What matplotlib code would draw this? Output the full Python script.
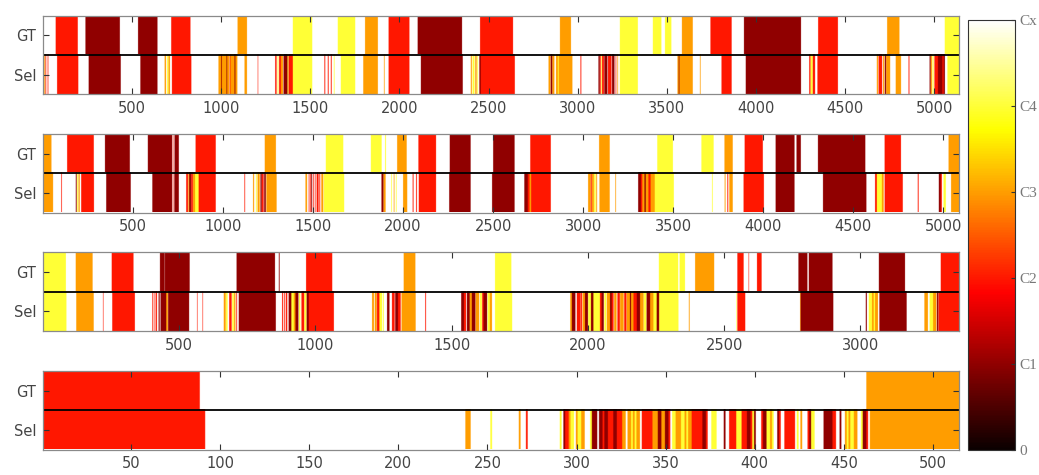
import numpy as np
import matplotlib
matplotlib.use('Agg')
from matplotlib import pyplot as plt
from matplotlib.cm import ScalarMappable
from matplotlib.colors import Normalize

# colour-scale value of each class, index 0 = Cx (nothing / white)
class_values = [1.0, 0.2, 0.4, 0.6, 0.8]
code_chars = '.droy'          # same order, used for the dense runs below
cbar_ticks = [0, 0.2, 0.4, 0.6, 0.8, 1.0]
cbar_labels = ['0', 'C1', 'C2', 'C3', 'C4', 'Cx']
row_labels = ['GT', 'Sel']

n_frames = [5137, 5085, 3360, 514]
tick_steps = [500, 500, 500, 50]

# segments: (first frame, last frame, class 1..4)
gt_1 = [(72, 195, 2), (239, 431, 1), (534, 642, 1), (720, 827, 2), (1092, 1144, 3),
        (1402, 1510, 4), (1654, 1751, 4), (1807, 1878, 3), (1939, 2055, 2), (2102, 2350, 1),
        (2452, 2636, 2), (2900, 2961, 3), (3236, 3336, 4), (3421, 3468, 4), (3489, 3524, 4),
        (3584, 3644, 3), (3744, 3862, 2), (3932, 4251, 1), (4348, 4458, 2), (4735, 4803, 3),
        (5058, 5137, 4)]
sel_1 = [(8, 12, 3), (15, 18, 2), (27, 30, 2), (80, 198, 2), (257, 436, 1), (547, 642, 1),
         (683, 690, 3), (697, 703, 4), (705, 712, 3), (724, 832, 2),
         (985, 1000, 3), (1000, 1004, 1), (1004, 1030, 3), (1030, 1034, 1), (1034, 1045, 3),
         (1048, 1052, 2), (1052, 1075, 3), (1075, 1080, 1), (1080, 1090, 3),
         (1131, 1144, 3), (1205, 1207, 2),
         (1303, 1310, 2), (1316, 1320, 4), (1325, 1335, 2), (1335, 1346, 3), (1350, 1372, 1),
         (1372, 1376, 4), (1378, 1401, 2), (1402, 1510, 4),
         (1579, 1583, 2), (1598, 1602, 2), (1615, 1619, 2), (1632, 1635, 4),
         (1671, 1751, 4), (1797, 1878, 3), (1913, 1916, 3), (1939, 2055, 2), (2120, 2354, 1),
         (2400, 2405, 3), (2410, 2420, 4), (2425, 2432, 3), (2436, 2440, 4), (2448, 2456, 1),
         (2456, 2646, 2),
         (2836, 2845, 3), (2848, 2856, 1), (2858, 2868, 3), (2878, 2969, 3), (2888, 2892, 4),
         (3015, 3019, 2),
         (3116, 3122, 1), (3124, 3128, 2), (3131, 3134, 4), (3136, 3146, 2), (3149, 3165, 1),
         (3169, 3188, 2), (3192, 3205, 1), (3212, 3215, 2), (3222, 3225, 3), (3236, 3336, 4),
         (3559, 3566, 3), (3566, 3570, 1), (3570, 3584, 3), (3584, 3644, 3), (3685, 3688, 3),
         (3806, 3862, 2), (3942, 4251, 1),
         (4298, 4304, 2), (4306, 4316, 4), (4318, 4330, 2), (4344, 4458, 2),
         (4677, 4683, 3), (4687, 4706, 2), (4712, 4718, 3), (4722, 4728, 1), (4730, 4751, 3),
         (4783, 4812, 3), (4855, 4859, 2),
         (4973, 4978, 1), (4980, 4986, 3), (4990, 4995, 4), (5000, 5020, 2), (5020, 5045, 1),
         (5045, 5052, 2), (5052, 5058, 1), (5073, 5137, 4)]

gt_2 = [(1, 47, 3), (135, 282, 2), (345, 482, 1), (583, 717, 1), (722, 724, 2), (731, 754, 1),
        (848, 959, 2), (1232, 1293, 3), (1571, 1667, 4), (1821, 1880, 4), (1900, 1904, 4),
        (1967, 2019, 3), (2085, 2182, 2), (2259, 2374, 1), (2500, 2618, 1), (2706, 2819, 2),
        (3088, 3146, 3), (3411, 3497, 4), (3656, 3723, 4), (3784, 3829, 3), (3896, 3996, 2),
        (4068, 4172, 1), (4184, 4207, 1), (4303, 4565, 1), (4673, 4763, 2), (5028, 5085, 3)]
sel_2 = [(1, 56, 3), (102, 105, 2), (183, 187, 1), (190, 194, 4), (198, 204, 3), (213, 283, 2),
         (352, 487, 1), (608, 717, 1), (722, 724, 2), (730, 754, 1),
         (796, 805, 2), (808, 812, 3), (813, 822, 1), (824, 832, 2), (834, 845, 3), (845, 865, 4),
         (865, 959, 2), (1119, 1122, 2),
         (1167, 1172, 3), (1183, 1187, 4), (1192, 1203, 3), (1208, 1214, 1), (1216, 1225, 2),
         (1229, 1237, 1), (1241, 1297, 3),
         (1458, 1466, 3), (1476, 1479, 2), (1484, 1487, 2), (1490, 1494, 1), (1500, 1503, 2),
         (1510, 1513, 2), (1520, 1530, 2), (1535, 1539, 2), (1546, 1556, 3), (1560, 1571, 4),
         (1571, 1672, 4), (1880, 1890, 1), (1892, 1902, 3), (1934, 1937, 4), (1948, 1951, 3),
         (1960, 1963, 4), (2000, 2022, 3), (2053, 2057, 2), (2072, 2076, 2),
         (2087, 2182, 2), (2256, 2374, 1), (2494, 2618, 1),
         (2673, 2692, 1), (2692, 2702, 2), (2702, 2711, 3), (2711, 2819, 2),
         (3027, 3040, 3), (3042, 3046, 2), (3048, 3058, 3), (3060, 3068, 4), (3072, 3076, 3),
         (3090, 3146, 3), (3178, 3181, 3),
         (3305, 3320, 1), (3320, 3328, 2), (3328, 3340, 3), (3340, 3347, 1), (3347, 3362, 3),
         (3362, 3374, 2), (3374, 3397, 3), (3397, 3502, 4), (3715, 3718, 4), (3785, 3789, 3),
         (3800, 3804, 2), (3811, 3829, 3), (3890, 4002, 2), (4068, 4172, 1), (4331, 4571, 1),
         (4620, 4630, 2), (4630, 4658, 4), (4658, 4667, 3), (4673, 4773, 2), (4857, 4861, 2),
         (4974, 4984, 1), (4984, 4990, 2), (5000, 5012, 4), (5042, 5085, 3)]

gt_3 = [(1, 84, 4), (121, 182, 3), (253, 332, 2), (430, 446, 1), (448, 538, 1), (711, 851, 1),
        (866, 868, 1), (966, 1061, 2), (1324, 1366, 3), (1659, 1718, 4), (2260, 2330, 4),
        (2336, 2355, 4), (2393, 2462, 3), (2548, 2570, 2), (2589, 2590, 2), (2620, 2636, 2),
        (2772, 2804, 1), (2810, 2896, 1), (3067, 3162, 1), (3294, 3360, 2)]
sel_3 = [(1, 86, 4), (123, 186, 3), (221, 222, 2), (255, 337, 2),
         (402, 404, 2), (408, 409, 2), (414, 418, 2), (425, 428, 1), (432, 452, 1), (453, 458, 3),
         (460, 536, 1), (566, 567, 2), (586, 587, 2),
         (664, 670, 3), (672, 677, 4), (684, 692, 2), (695, 700, 4), (702, 706, 3), (710, 712, 2),
         (719, 854, 1),
         (878, 881, 2), (886, 888, 2), (892, 896, 2), (902, 912, 1), (912, 921, 4), (921, 927, 3),
         (927, 937, 1), (940, 944, 4), (949, 958, 2), (960, 966, 4), (968, 975, 1),
         (976, 1067, 2),
         (1208, 1214, 3), (1218, 1224, 3), (1226, 1235, 2), (1235, 1244, 4), (1248, 1250, 4),
         (1263, 1271, 1), (1281, 1287, 2), (1288, 1290, 2), (1293, 1303, 1), (1303, 1312, 2),
         (1316, 1367, 3), (1403, 1405, 2),
         (1535, 1545, 1), (1545, 1552, 2), (1556, 1566, 1), (1566, 1574, 3), (1574, 1586, 1),
         (1588, 1600, 3), (1604, 1610, 4), (1612, 1617, 2), (1617, 1629, 1), (1632, 1640, 4),
         (1640, 1647, 3), (1659, 1721, 4),
         (1935, 1941, 3), (1941, 1953, 1), (1959, 1971, 2), (1973, 1977, 2), (1980, 1989, 3),
         (1989, 1999, 1), (2001, 2011, 4), (2011, 2020, 1), (2020, 2044, 4), (2044, 2050, 2),
         (2050, 2057, 1), (2060, 2066, 4), (2069, 2081, 3), (2081, 2087, 1), (2087, 2093, 2),
         (2096, 2104, 3), (2108, 2116, 2), (2118, 2130, 3), (2133, 2140, 2), (2142, 2154, 3),
         (2154, 2158, 1), (2158, 2167, 3), (2167, 2179, 2), (2179, 2191, 1), (2191, 2203, 3),
         (2205, 2213, 4), (2215, 2228, 1), (2228, 2240, 3), (2240, 2252, 4), (2252, 2261, 1),
         (2261, 2331, 4), (2370, 2372, 3), (2544, 2545, 4), (2548, 2576, 2),
         (2778, 2779, 3), (2780, 2899, 1),
         (3019, 3022, 1), (3030, 3042, 4), (3042, 3048, 3), (3048, 3053, 4), (3053, 3063, 3),
         (3069, 3168, 1),
         (3234, 3246, 3), (3253, 3265, 4), (3266, 3277, 3), (3280, 3284, 1), (3286, 3298, 2),
         (3298, 3360, 2)]

gt_4 = [(1, 88, 2), (463, 514, 3)]
sel_4 = [(1, 91, 2), (238, 240, 3), (252, 252, 4), (268, 268, 3), (272, 272, 2), (465, 514, 3)]
# frame-by-frame classes of the busy stretch in the last Sel row, from frame 291
sel_4_dense = (291, "y.drroyy.o" "yyoo...ydd" "d.ddrddrrr" "ddrrroo.oo" "yoyoo.rrrr"
                    "rroooddood" "dr.yyoooyy" "oyoorrrrrr" "ddr..yyy.." "..d..rrrry"
                    "yyrrrddryd" "...rddyyoy" "..dr..rrrr" "rr.y.o...r" "dyy.....dd"
                    "dddrr..d.." "oyoyyoo..y" "ddr.")


def make_row(segs, n, dense=None):
    row = np.full(n, class_values[0])
    for a, b, c in segs:
        row[a - 1:b] = class_values[c]
    if dense:
        start, codes = dense
        for i, ch in enumerate(codes):
            row[start - 1 + i] = class_values[code_chars.index(ch)]
    return row


rows = [(make_row(gt_1, n_frames[0]), make_row(sel_1, n_frames[0])),
        (make_row(gt_2, n_frames[1]), make_row(sel_2, n_frames[1])),
        (make_row(gt_3, n_frames[2]), make_row(sel_3, n_frames[2])),
        (make_row(gt_4, n_frames[3]), make_row(sel_4, n_frames[3], sel_4_dense))]

W, H = 1039, 475
fig = plt.figure(figsize=(W / 100, H / 100), dpi=100)

txt = '#444444'
tops = [15.7, 134, 252.3, 371]
for k in range(4):
    n = n_frames[k]
    ax = fig.add_axes([43 / W, 1 - (tops[k] + 78.5) / H, 915.7 / W, 78.5 / H])
    for r, row in enumerate(rows[k]):
        ax.imshow(row[np.newaxis, :], cmap='hot', vmin=0, vmax=1, aspect='auto',
                  extent=(0.5, n + 0.5, r + 0.5, r - 0.5),
                  interpolation='antialiased', interpolation_stage='rgba')
    ax.set_xlim(0.5, n + 0.5)
    ax.set_ylim(1.5, -0.5)
    ax.axhline(0.5, color='black', lw=1.3)
    ax.set_xticks(np.arange(tick_steps[k], n + 1, tick_steps[k]))
    ax.set_yticks([0, 1])
    ax.set_yticklabels(row_labels)
    ax.tick_params(direction='in', top=True, right=True, length=4, width=0.8,
                   color='#333333', labelcolor=txt, labelsize=10.5, pad=5)
    for s in ax.spines.values():
        s.set_color('#8a8a8a')
        s.set_linewidth(0.9)

cax = fig.add_axes([968 / W, 1 - 450 / H, 47 / W, 430 / H])
sm = ScalarMappable(cmap='hot', norm=Normalize(0, 1))
cb = fig.colorbar(sm, cax=cax, ticks=cbar_ticks)
cb.ax.set_yticklabels(cbar_labels, family='Liberation Serif', color='#777777', fontsize=11)
cb.ax.tick_params(direction='in', length=3, width=0.8, color='#333333', pad=3)
cb.outline.set_edgecolor('#333333')
cb.outline.set_linewidth(0.8)

fig.savefig('out.png', dpi=100)
